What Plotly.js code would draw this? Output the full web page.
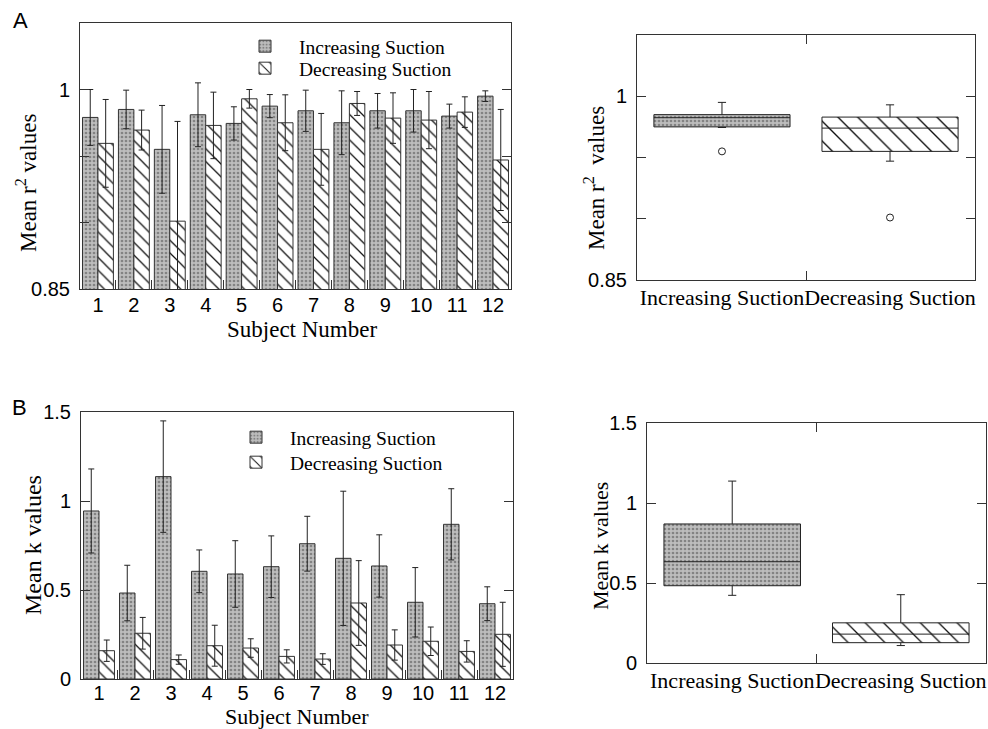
<!DOCTYPE html>
<html>
<head>
<meta charset="utf-8">
<script src="https://cdn.plot.ly/plotly-3.0.1.min.js"></script>
<style>html,body{margin:0;padding:0;background:#fff;}#chart{width:988px;height:729px;}</style>
</head>
<body>
<div id="chart"></div>
<script>
// ---------------- data ----------------
var subjects = ['1','2','3','4','5','6','7','8','9','10','11','12'];
var groups = ['Increasing Suction','Decreasing Suction'];

var r2Inc    = [0.979, 0.985, 0.955, 0.981, 0.9745, 0.9875, 0.984, 0.975, 0.984, 0.984, 0.980, 0.995];
var r2IncErr = [0.021, 0.0145, 0.033, 0.024, 0.0125, 0.0087, 0.0155, 0.024, 0.013, 0.016, 0.009, 0.004];
var r2Dec    = [0.9595, 0.9695, 0.901, 0.973, 0.993, 0.975, 0.955, 0.9895, 0.9785, 0.977, 0.983, 0.947];
var r2DecErr = [0.033, 0.015, 0.075, 0.025, 0.007, 0.021, 0.027, 0.009, 0.019, 0.0215, 0.0115, 0.038];

var kInc    = [0.944, 0.483, 1.137, 0.605, 0.590, 0.631, 0.760, 0.678, 0.635, 0.431, 0.869, 0.423];
var kIncErr = [0.236, 0.156, 0.313, 0.120, 0.187, 0.173, 0.154, 0.377, 0.175, 0.195, 0.200, 0.095];
var kDec    = [0.159, 0.257, 0.109, 0.187, 0.174, 0.127, 0.112, 0.427, 0.191, 0.212, 0.155, 0.251];
var kDecErr = [0.060, 0.089, 0.026, 0.115, 0.052, 0.037, 0.030, 0.238, 0.085, 0.080, 0.060, 0.180];

var r2TickVals = [0.85, 0.9, 0.95, 1];
var r2TickText = ['0.85', '', '', '1'];
var kTickVals = [0, 0.5, 1, 1.5];
var kTickText = ['0', '0.5', '1', '1.5'];

// ---------------- helpers ----------------
var W = 988, H = 729;
function px(x){ return x / W; }
function py(y){ return 1 - y / H; }

function stats(arr){
  var s = arr.slice().sort(function(a,b){return a-b;});
  var n = s.length;
  var q1 = s[Math.floor(n/4) - 1];
  var q3 = s[Math.ceil(3*n/4)];
  var med = n % 2 ? s[(n-1)/2] : (s[n/2-1] + s[n/2]) / 2;
  var iqr = q3 - q1;
  var lo = q1 - 1.5*iqr, hi = q3 + 1.5*iqr;
  var inl = s.filter(function(v){return v >= lo && v <= hi;});
  var out = s.filter(function(v){return v < lo || v > hi;});
  return {q1:q1, q3:q3, median:med, lf:inl[0], uf:inl[inl.length-1], out:out};
}

var SANS = 'Liberation Sans, Arial, sans-serif';
var SERIF = 'Liberation Serif, Times New Roman, serif';
var AX = '#333';

var DOTS = {shape: '.', bgcolor: '#bdbdbd', fgcolor: '#838383', size: 4, solidity: 0.36};
function hatch(size, sol){ return {shape: '\\', bgcolor: '#ffffff', fgcolor: '#111', size: size, solidity: sol}; }

var incMarker = {color: '#b4b4b4', line: {color: '#333', width: 1}, pattern: DOTS};
var decMarker = {color: '#ffffff', line: {color: '#333', width: 1}, pattern: hatch(9, 0.14)};
function err(a){ return {type:'data', array:a, visible:true, color:'#222', thickness:1, width:3}; }

var data = [];
// Panel A bars
data.push({type:'bar', x:subjects, y:r2Inc, name:'Increasing Suction', marker:incMarker,
  error_y:err(r2IncErr), xaxis:'x', yaxis:'y', legend:'legend', hoverinfo:'skip'});
data.push({type:'bar', x:subjects, y:r2Dec, name:'Decreasing Suction', marker:decMarker,
  error_y:err(r2DecErr), xaxis:'x', yaxis:'y', legend:'legend2', hoverinfo:'skip'});
// Panel B bars
data.push({type:'bar', x:subjects, y:kInc, name:'Increasing Suction', marker:incMarker,
  error_y:err(kIncErr), xaxis:'x3', yaxis:'y3', legend:'legend3', hoverinfo:'skip'});
data.push({type:'bar', x:subjects, y:kDec, name:'Decreasing Suction', marker:decMarker,
  error_y:err(kDecErr), xaxis:'x3', yaxis:'y3', legend:'legend4', hoverinfo:'skip'});

// Box plots
function addBoxes(incArr, decArr, xa, ya, hatchSize, grp){
  var si = stats(incArr), sd = stats(decArr);
  var S = [si, sd];
  // box body fills (stipple / hatch), drawn under the box outlines
  data.push({type:'bar', x:[groups[0]], base:[si.q1], y:[si.q3 - si.q1], width:0.81,
    offsetgroup:grp, showlegend:false, hoverinfo:'skip',
    marker:{color:'#b4b4b4', line:{width:0}, pattern:DOTS}, xaxis:xa, yaxis:ya});
  data.push({type:'bar', x:[groups[1]], base:[sd.q1], y:[sd.q3 - sd.q1], width:0.81,
    offsetgroup:grp, showlegend:false, hoverinfo:'skip',
    marker:{color:'#ffffff', line:{width:0}, pattern:hatch(hatchSize, 0.1)}, xaxis:xa, yaxis:ya});
  data.push({type:'box', x:groups, q1:S.map(function(s){return s.q1;}),
    median:S.map(function(s){return s.median;}), q3:S.map(function(s){return s.q3;}),
    lowerfence:S.map(function(s){return s.lf;}), upperfence:S.map(function(s){return s.uf;}),
    width:0.81, whiskerwidth:0.06, boxpoints:false, fillcolor:'rgba(0,0,0,0)',
    line:{color:'#222', width:1}, showlegend:false, hoverinfo:'skip', xaxis:xa, yaxis:ya});
  var ox = [], oy = [];
  S.forEach(function(s, i){ s.out.forEach(function(v){ ox.push(groups[i]); oy.push(v); }); });
  data.push({type:'scatter', mode:'markers', x:ox, y:oy, showlegend:false, hoverinfo:'skip',
    marker:{symbol:'circle-open', size:7, color:'#222', line:{width:1}}, xaxis:xa, yaxis:ya});
}
addBoxes(r2Inc, r2Dec, 'x2', 'y2', 14, 'ba');
addBoxes(kInc, kDec, 'x4', 'y4', 13, 'bb');

function xBar(dom, anchor, standoff){
  return {domain:dom, anchor:anchor, type:'category', showline:true, linecolor:AX, linewidth:1,
    mirror:true, ticks:'inside', tickson:'boundaries', ticklen:9, tickcolor:AX,
    tickfont:{family:SANS, size:20, color:'#000'}, showgrid:false, zeroline:false, fixedrange:true,
    tickangle:0, ticklabelstandoff:standoff};
}
function xBox(dom, anchor){
  var a = xBar(dom, anchor, -2);
  a.mirror = 'ticks';
  a.tickfont = {family:SERIF, size:22, color:'#000'};
  return a;
}
function yAx(dom, anchor, range, tv, tt){
  return {domain:dom, anchor:anchor, range:range, tickvals:tv, ticktext:tt, showline:true,
    linecolor:AX, linewidth:1, mirror:'ticks', ticks:'inside', ticklen:9, tickcolor:AX,
    tickfont:{family:SANS, size:20, color:'#000'}, showgrid:false, zeroline:false, fixedrange:true,
    ticklabelstandoff:5};
}

function ann(text, x, y, size, fam, rot){
  return {text:text, x:px(x), y:py(y), xref:'paper', yref:'paper', xanchor:'center', yanchor:'middle',
    showarrow:false, textangle:rot || 0, font:{family:fam, size:size, color:'#000'}};
}
function leg(x, y){
  return {x:px(x), y:py(y), xanchor:'left', yanchor:'top', bgcolor:'rgba(0,0,0,0)',
    font:{family:SERIF, size:19.5, color:'#000'}, itemwidth:58, tracegroupgap:0};
}

var layout = {
  width: W, height: H,
  margin: {l:0, r:0, t:0, b:0},
  paper_bgcolor: '#fff', plot_bgcolor: '#fff',
  font: {family: SERIF, color: '#000'},
  barmode: 'group', bargap: 0.14, bargroupgap: 0,
  showlegend: true,
  xaxis:  xBar([px(80), px(511)], 'y', -2),
  yaxis:  yAx([py(289), py(23)], 'x', [0.85, 1.05], r2TickVals, r2TickText),
  xaxis2: xBox([px(637), px(975)], 'y2'),
  yaxis2: yAx([py(280), py(35)], 'x2', [0.85, 1.05], r2TickVals, r2TickText),
  xaxis3: xBar([px(81), px(513)], 'y3', -4),
  yaxis3: yAx([py(679), py(412)], 'x3', [0, 1.5], kTickVals, kTickText),
  xaxis4: xBox([px(647), px(986)], 'y4'),
  yaxis4: yAx([py(663), py(423)], 'x4', [0, 1.5], kTickVals, kTickText),
  legend:  leg(231, 27),
  legend2: leg(231, 49),
  legend3: leg(222, 418),
  legend4: leg(222, 443),
  annotations: [
    ann('A', 20, 20, 22, SANS),
    ann('B', 19, 407, 22, SANS),
    ann('Mean r<sup>2</sup> values', 26, 183, 23, SERIF, -90),
    ann('Subject Number', 302, 330, 23, SERIF),
    ann('Mean r<sup>2</sup>  values', 595, 178, 23, SERIF, -90),
    ann('Mean k values', 33, 545, 24, SERIF, -90),
    ann('Subject Number', 297, 716, 22, SERIF),
    ann('Mean k values', 600, 546, 22, SERIF, -90)
  ]
};

Plotly.newPlot('chart', data, layout, {staticPlot:true, displayModeBar:false});
</script>
</body>
</html>
